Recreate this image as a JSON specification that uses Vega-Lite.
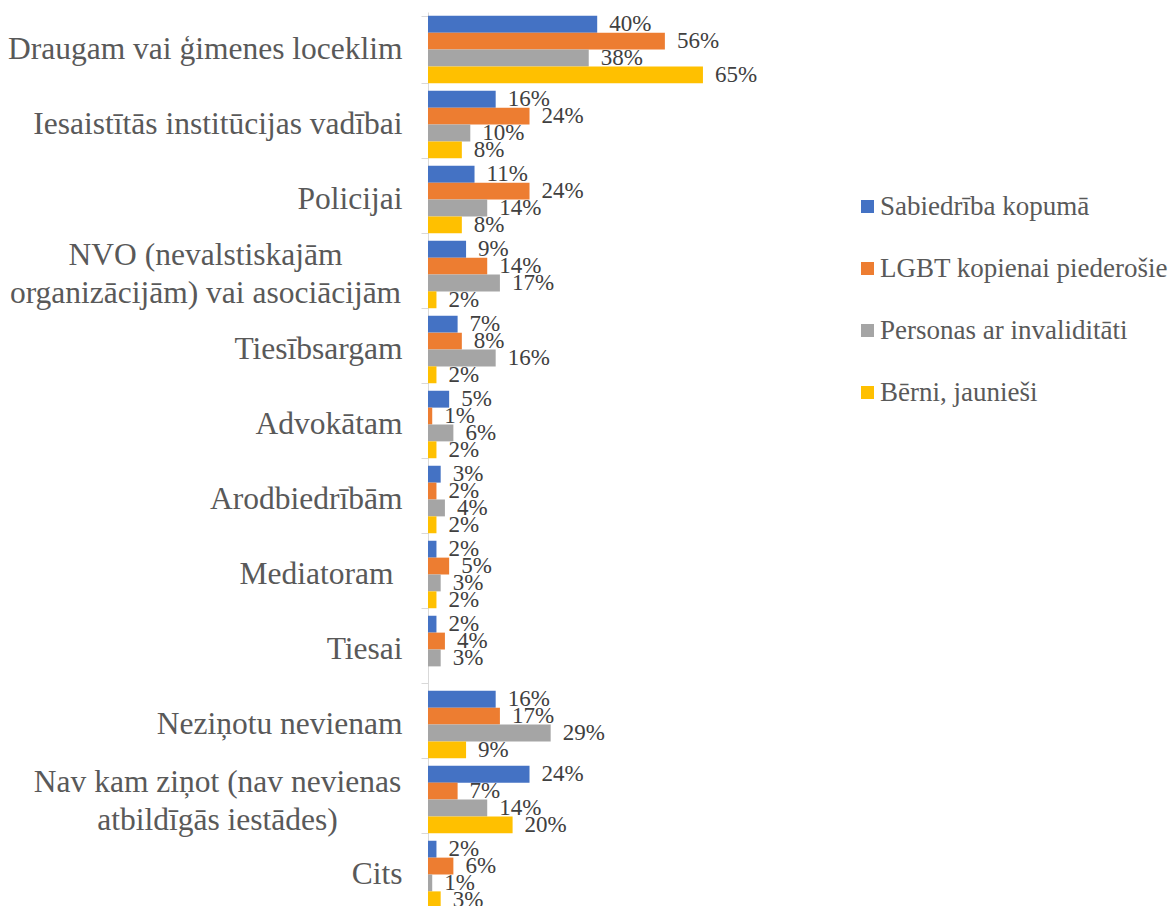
{
  "$schema": "https://vega.github.io/schema/vega-lite/v6.json",
  "width": 423,
  "height": 900,
  "autosize": "none",
  "padding": {"left": 428, "top": 12, "right": 323, "bottom": 0},
  "config": {
    "view": {"stroke": null},
    "font": "Liberation Serif"
  },
  "data": {
    "values": [
      {"c": "Draugam vai ģimenes loceklim", "s": "Sabiedrība kopumā", "v": 0.40},
      {"c": "Draugam vai ģimenes loceklim", "s": "LGBT kopienai piederošie", "v": 0.56},
      {"c": "Draugam vai ģimenes loceklim", "s": "Personas ar invaliditāti", "v": 0.38},
      {"c": "Draugam vai ģimenes loceklim", "s": "Bērni, jaunieši", "v": 0.65},
      {"c": "Iesaistītās institūcijas vadībai", "s": "Sabiedrība kopumā", "v": 0.16},
      {"c": "Iesaistītās institūcijas vadībai", "s": "LGBT kopienai piederošie", "v": 0.24},
      {"c": "Iesaistītās institūcijas vadībai", "s": "Personas ar invaliditāti", "v": 0.10},
      {"c": "Iesaistītās institūcijas vadībai", "s": "Bērni, jaunieši", "v": 0.08},
      {"c": "Policijai", "s": "Sabiedrība kopumā", "v": 0.11},
      {"c": "Policijai", "s": "LGBT kopienai piederošie", "v": 0.24},
      {"c": "Policijai", "s": "Personas ar invaliditāti", "v": 0.14},
      {"c": "Policijai", "s": "Bērni, jaunieši", "v": 0.08},
      {"c": "NVO (nevalstiskajām organizācijām) vai asociācijām", "s": "Sabiedrība kopumā", "v": 0.09},
      {"c": "NVO (nevalstiskajām organizācijām) vai asociācijām", "s": "LGBT kopienai piederošie", "v": 0.14},
      {"c": "NVO (nevalstiskajām organizācijām) vai asociācijām", "s": "Personas ar invaliditāti", "v": 0.17},
      {"c": "NVO (nevalstiskajām organizācijām) vai asociācijām", "s": "Bērni, jaunieši", "v": 0.02},
      {"c": "Tiesībsargam", "s": "Sabiedrība kopumā", "v": 0.07},
      {"c": "Tiesībsargam", "s": "LGBT kopienai piederošie", "v": 0.08},
      {"c": "Tiesībsargam", "s": "Personas ar invaliditāti", "v": 0.16},
      {"c": "Tiesībsargam", "s": "Bērni, jaunieši", "v": 0.02},
      {"c": "Advokātam", "s": "Sabiedrība kopumā", "v": 0.05},
      {"c": "Advokātam", "s": "LGBT kopienai piederošie", "v": 0.01},
      {"c": "Advokātam", "s": "Personas ar invaliditāti", "v": 0.06},
      {"c": "Advokātam", "s": "Bērni, jaunieši", "v": 0.02},
      {"c": "Arodbiedrībām", "s": "Sabiedrība kopumā", "v": 0.03},
      {"c": "Arodbiedrībām", "s": "LGBT kopienai piederošie", "v": 0.02},
      {"c": "Arodbiedrībām", "s": "Personas ar invaliditāti", "v": 0.04},
      {"c": "Arodbiedrībām", "s": "Bērni, jaunieši", "v": 0.02},
      {"c": "Mediatoram", "s": "Sabiedrība kopumā", "v": 0.02},
      {"c": "Mediatoram", "s": "LGBT kopienai piederošie", "v": 0.05},
      {"c": "Mediatoram", "s": "Personas ar invaliditāti", "v": 0.03},
      {"c": "Mediatoram", "s": "Bērni, jaunieši", "v": 0.02},
      {"c": "Tiesai", "s": "Sabiedrība kopumā", "v": 0.02},
      {"c": "Tiesai", "s": "LGBT kopienai piederošie", "v": 0.04},
      {"c": "Tiesai", "s": "Personas ar invaliditāti", "v": 0.03},
      {"c": "Neziņotu nevienam", "s": "Sabiedrība kopumā", "v": 0.16},
      {"c": "Neziņotu nevienam", "s": "LGBT kopienai piederošie", "v": 0.17},
      {"c": "Neziņotu nevienam", "s": "Personas ar invaliditāti", "v": 0.29},
      {"c": "Neziņotu nevienam", "s": "Bērni, jaunieši", "v": 0.09},
      {"c": "Nav kam ziņot (nav nevienas atbildīgās iestādes)", "s": "Sabiedrība kopumā", "v": 0.24},
      {"c": "Nav kam ziņot (nav nevienas atbildīgās iestādes)", "s": "LGBT kopienai piederošie", "v": 0.07},
      {"c": "Nav kam ziņot (nav nevienas atbildīgās iestādes)", "s": "Personas ar invaliditāti", "v": 0.14},
      {"c": "Nav kam ziņot (nav nevienas atbildīgās iestādes)", "s": "Bērni, jaunieši", "v": 0.20},
      {"c": "Cits", "s": "Sabiedrība kopumā", "v": 0.02},
      {"c": "Cits", "s": "LGBT kopienai piederošie", "v": 0.06},
      {"c": "Cits", "s": "Personas ar invaliditāti", "v": 0.01},
      {"c": "Cits", "s": "Bērni, jaunieši", "v": 0.03}
    ]
  },
  "encoding": {
    "y": {
      "field": "c",
      "type": "nominal",
      "sort": [
        "Draugam vai ģimenes loceklim",
        "Iesaistītās institūcijas vadībai",
        "Policijai",
        "NVO (nevalstiskajām organizācijām) vai asociācijām",
        "Tiesībsargam",
        "Advokātam",
        "Arodbiedrībām",
        "Mediatoram",
        "Tiesai",
        "Neziņotu nevienam",
        "Nav kam ziņot (nav nevienas atbildīgās iestādes)",
        "Cits"
      ],
      "scale": {"paddingInner": 0.1, "paddingOuter": 0.05},
      "axis": {
        "title": null,
        "labelFont": "Liberation Serif",
        "labelFontSize": 31.5,
        "labelColor": "#595959",
        "labelLimit": 0,
        "labelLineHeight": 38,
        "tickSize": 7,
        "tickColor": "#D9D9D9",
        "tickBand": "extent",
        "domainColor": "#D9D9D9",
        "labelAlign": {
          "condition": {"test": "indexof(datum.label, 'NVO') == 0 || indexof(datum.label, 'Nav kam') == 0", "value": "center"},
          "value": "right"
        },
        "labelPadding": {
          "condition": [
            {"test": "indexof(datum.label, 'NVO') == 0", "value": 216},
            {"test": "indexof(datum.label, 'Nav kam') == 0", "value": 204},
            {"test": "datum.label == 'Mediatoram'", "value": 28}
          ],
          "value": 19
        },
        "labelOffset": {
          "condition": [
            {"test": "indexof(datum.label, 'NVO') == 0", "value": -19},
            {"test": "indexof(datum.label, 'Nav kam') == 0", "value": -17}
          ],
          "value": 0
        },
        "labelExpr": "datum.label == 'NVO (nevalstiskajām organizācijām) vai asociācijām' ? ['NVO (nevalstiskajām', 'organizācijām) vai asociācijām'] : datum.label == 'Nav kam ziņot (nav nevienas atbildīgās iestādes)' ? ['Nav kam ziņot (nav nevienas', 'atbildīgās iestādes)'] : datum.label"
      }
    },
    "yOffset": {
      "field": "s",
      "type": "nominal",
      "sort": ["Sabiedrība kopumā", "LGBT kopienai piederošie", "Personas ar invaliditāti", "Bērni, jaunieši"],
      "scale": {"domain": ["Sabiedrība kopumā", "LGBT kopienai piederošie", "Personas ar invaliditāti", "Bērni, jaunieši"], "paddingInner": 0, "paddingOuter": 0}
    },
    "x": {
      "field": "v",
      "type": "quantitative",
      "scale": {"domain": [0, 1], "nice": false},
      "axis": null
    }
  },
  "layer": [
    {
      "mark": {"type": "bar"},
      "encoding": {
        "color": {
          "field": "s",
          "type": "nominal",
          "scale": {
            "domain": ["Sabiedrība kopumā", "LGBT kopienai piederošie", "Personas ar invaliditāti", "Bērni, jaunieši"],
            "range": ["#4472C4", "#ED7D31", "#A5A5A5", "#FFC000"]
          },
          "legend": {
            "title": null,
            "orient": "none",
            "legendX": 426,
            "legendY": 181,
            "padding": 0,
            "symbolType": "square",
            "symbolSize": 169,
            "symbolStrokeWidth": 0,
            "labelFont": "Liberation Serif",
            "labelFontSize": 27,
            "labelColor": "#595959",
            "labelOffset": -1,
            "labelLimit": 0,
            "rowPadding": 34
          }
        }
      }
    },
    {
      "mark": {"type": "text", "align": "left", "baseline": "middle", "dx": 12, "fontSize": 23, "font": "Liberation Serif", "color": "#404040"},
      "encoding": {
        "text": {"field": "v", "type": "quantitative", "format": ".0%"}
      }
    }
  ]
}
